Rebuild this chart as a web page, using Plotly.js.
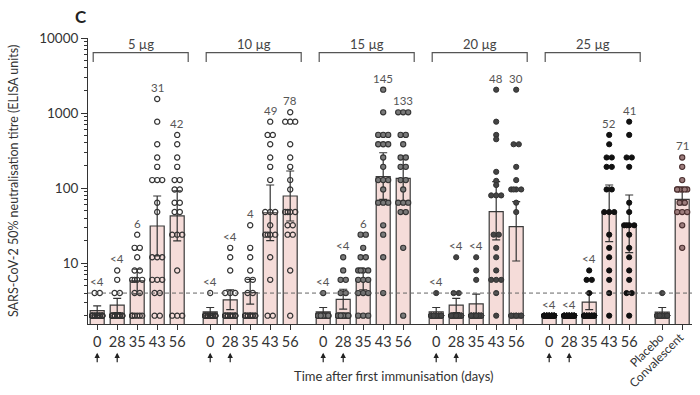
<!DOCTYPE html>
<html><head><meta charset="utf-8">
<script src="https://cdn.plot.ly/plotly-3.0.1.min.js"></script>
<style>html,body{margin:0;padding:0;background:#fff}#chart{width:700px;height:395px}</style>
</head><body><div id="chart"></div>
<script>
// ---------------- DATA ----------------
const groups = ['5 µg', '10 µg', '15 µg', '20 µg', '25 µg'];
const days = ['0', '28', '35', '43', '56'];
const controls = ['Placebo', 'Convalescent'];

// geometric mean titres (bar heights), 95% CI bounds and printed labels
const gmt_5  = [2.34, 2.76, 5.8, 31.3, 42.6];
const lo_5   = [2.0, 2.2, 3.9, 12.5, 19.8];
const hi_5   = [2.7, 3.4, 8.3, 78.5, 92];
const lab_5  = ['<4', '<4', '6', '31', '42'];

const gmt_10 = [2.25, 3.25, 4.06, 47, 78.5];
const lo_10  = [2.0, 2.4, 2.85, 20, 36.5];
const hi_10  = [2.57, 4.4, 6.1, 110, 169];
const lab_10 = ['<4', '<4', '4', '49', '78'];

const gmt_15 = [2.25, 3.3, 6.1, 142, 135];
const lo_15  = [2.0, 2.44, 4.4, 71, 64];
const hi_15  = [2.57, 4.5, 8.3, 296, 257];
const lab_15 = ['<4', '<4', '6', '145', '133'];

const gmt_20 = [2.25, 2.76, 2.88, 48.5, 30.7];
const lo_20  = [2.0, 2.2, 2.15, 20.4, 10.7];
const hi_20  = [2.57, 3.4, 3.87, 122, 66];
const lab_20 = ['<4', '<4', '<4', '48', '30'];

const gmt_25 = [2.1, 2.1, 3.03, 46, 33.3];
const lo_25  = [2.1, 2.1, 2.4, 19.4, 13.8];
const hi_25  = [2.1, 2.1, 4.0, 110, 81];
const lab_25 = ['<4', '<4', '<4', '52', '41'];

const gmt_ctrl = [2.23, 71];
const lo_ctrl  = [2.0, 59.6];
const hi_ctrl  = [2.57, 94.5];
const lab_ctrl = ['', '71'];

// individual participant titres
const dots_5 = [
  [4,4,2,2,2,2,2,2,2,2,2,2,2,2,2,2,2,2,2,2],
  [8,6,4,4,2,2,2,2,2,2,2,2,2,2,2,2,2,2,2,2],
  [24,16,16,12,8,8,6,6,6,6,4,4,2,2,2,2,2,2],
  [1536,768,384,256,192,128,128,128,64,48,12,12,12,6,6,6,4,4,2,2],
  [512,384,256,192,128,128,96,96,64,64,48,48,24,24,24,8,2,2,2]
];
const dots_10 = [
  [4,2,2,2,2,2,2,2,2,2,2,2,2,2,2,2,2,2,2,2],
  [16,12,8,4,4,4,2,2,2,2,2,2,2,2,2,2,2,2,2,2],
  [32,16,12,8,6,6,4,4,2,2,2,2,2,2,2,2,2,2,2,2],
  [768,512,512,384,256,192,128,48,48,48,32,24,24,24,24,12,6,2,2],
  [1024,768,768,768,384,256,192,128,96,48,48,48,48,32,32,24,24,8,2]
];
const dots_15 = [
  [4,2,2,2,2,2,2,2,2,2,2,2,2,2,2,2,2,2,2,2],
  [12,8,6,6,4,4,2,2,2,2,2,2,2,2,2,2,2,2,2,2],
  [24,24,16,12,12,8,8,8,8,6,6,6,4,4,4,2,2,2],
  [2048,1024,512,512,512,384,384,384,256,192,128,128,128,96,64,64,64,32,24,12,4],
  [1024,1024,1024,512,512,384,256,256,192,192,128,128,96,64,64,64,48,48,16,2]
];
const dots_20 = [
  [4,2,2,2,2,2,2,2,2,2,2,2,2,2,2,2,2,2,2,2],
  [12,4,4,2,2,2,2,2,2,2,2,2,2,2,2,2,2,2,2,2],
  [12,8,6,2,2,2,2,2,2,2,2,2,2,2,2,2,2,2,2,2],
  [2048,768,512,448,165,125,110,80,80,80,24,24,16,12,8,6,6,6,4,2],
  [2048,384,384,192,128,96,96,96,96,64,48,2,2,2,2,2,2,2,2]
];
const dots_25 = [
  [2,2,2,2,2,2,2,2,2,2,2,2,2,2,2,2,2,2,2,2],
  [2,2,2,2,2,2,2,2,2,2,2,2,2,2,2,2,2,2,2,2],
  [8,6,6,4,2,2,2,2,2,2,2,2,2,2,2,2,2,2,2,2],
  [512,384,256,256,192,192,96,96,48,48,48,24,16,12,8,6,4,2],
  [768,512,256,256,192,64,48,32,32,32,32,24,16,12,8,6,4,4,2]
];
const dots_ctrl = [
  [4,2,2,2,2,2,2,2,2,2,2,2,2,2,2,2,2,2,2,2],
  [256,192,128,96,96,96,96,96,96,64,64,48,48,48,32,16]
];

// ---------------- BUILD ----------------
const gmtAll = [gmt_5, gmt_10, gmt_15, gmt_20, gmt_25];
const loAll = [lo_5, lo_10, lo_15, lo_20, lo_25];
const hiAll = [hi_5, hi_10, hi_15, hi_20, hi_25];
const labAll = [lab_5, lab_10, lab_15, lab_20, lab_25];
const dotsAll = [dots_5, dots_10, dots_15, dots_20, dots_25];

const GSTEP = 5.65;
const dotStyles = [
  {symbol: 'circle-open', color: '#333', line: {width: 1.2, color: '#333'}},
  {symbol: 'circle-open', color: '#333', line: {width: 1.2, color: '#333'}},
  {symbol: 'circle', color: '#7a7a7a', line: {width: 1.1, color: '#333'}},
  {symbol: 'circle', color: '#444', line: {width: 1, color: '#333'}},
  {symbol: 'circle', color: '#111', line: {width: 1, color: '#111'}}
];
const ctrlStyles = [
  {symbol: 'circle', color: '#444', line: {width: 1, color: '#333'}},
  {symbol: 'circle', color: '#9c7c7c', line: {width: 1.1, color: '#4a2f2f'}}
];

function swarm(vals, xc) {
  const tot = {}, seen = {};
  vals.forEach(v => tot[v] = (tot[v] || 0) + 1);
  const pat = [-0.25, 0, 0.25, -0.125, 0.125];
  return vals.map(v => {
    const k = seen[v] || 0; seen[v] = k + 1;
    const n = tot[v];
    let off = 0;
    if (n === 2) off = k === 0 ? -0.13 : 0.13;
    else if (n > 2) off = pat[k % 5];
    return xc + off;
  });
}

const bx = [], by = [], eplus = [], eminus = [], tickv = [], tickt = [];
const traces = [];
const annotations = [];
const shapes = [];
const yr = [0.19, 4.0];
const pxToPaper = py => (324.3 - py) / 286.6;

function addBar(x, g, lo, hi, lab, dots, style) {
  bx.push(x); by.push(g); eplus.push(hi - g); eminus.push(g - lo);
  tickv.push(x);
  traces.push({
    type: 'scatter', mode: 'markers', x: swarm(dots, x), y: dots,
    marker: Object.assign({size: 5.2}, style), hoverinfo: 'skip', cliponaxis: false
  });
  if (lab) {
    annotations.push({
      x: x, y: Math.log10(Math.max.apply(null, dots)), xref: 'x', yref: 'y',
      text: lab, showarrow: false, yanchor: 'bottom', yshift: 3,
      font: {size: 11.5, color: '#555'}
    });
  }
}

groups.forEach((g, gi) => {
  days.forEach((d, di) => {
    const x = gi * GSTEP + di;
    addBar(x, gmtAll[gi][di], loAll[gi][di], hiAll[gi][di], labAll[gi][di], dotsAll[gi][di], dotStyles[gi]);
    tickt.push(d);
    if (di < 2) {
      annotations.push({
        x: x, y: pxToPaper(353), xref: 'x', yref: 'paper', text: '', showarrow: true,
        ax: 0, ay: 11, arrowhead: 2, arrowsize: 0.9, arrowwidth: 1.2, arrowcolor: '#222'
      });
    }
  });
  const x0 = gi * GSTEP - 0.2, x1 = gi * GSTEP + 4 + 0.55;
  const yt = pxToPaper(52.3), yb = pxToPaper(61.7);
  shapes.push({
    type: 'path', xref: 'x', yref: 'paper',
    path: `M ${x0},${yb} L ${x0},${yt} L ${x1},${yt} L ${x1},${yb}`,
    line: {color: '#555', width: 1.2}
  });
  annotations.push({
    x: (x0 + x1) / 2, y: pxToPaper(44), xref: 'x', yref: 'paper', text: g,
    showarrow: false, font: {size: 13, color: '#444'}, yanchor: 'middle'
  });
});

controls.forEach((c, ci) => {
  const x = 5 * GSTEP + ci;
  addBar(x, gmt_ctrl[ci], lo_ctrl[ci], hi_ctrl[ci], lab_ctrl[ci], dots_ctrl[ci], ctrlStyles[ci]);
  tickt.push('');
  annotations.push({
    x: x + 0.4, y: pxToPaper(327), xref: 'x', yref: 'paper', text: c, showarrow: false,
    textangle: -45, xanchor: 'right', yanchor: 'top', font: {size: 12, color: '#333'}
  });
});

const barTrace = {
  type: 'bar', x: bx, y: by, width: 0.7,
  marker: {color: '#f5dcd9', line: {color: '#3a3a3a', width: 1.2}},
  error_y: {type: 'data', symmetric: false, array: eplus, arrayminus: eminus,
            color: '#333', thickness: 1.2, width: 4},
  hoverinfo: 'skip'
};

// dashed threshold line at titre 4
shapes.push({
  type: 'line', xref: 'paper', yref: 'paper', x0: 0, x1: 1,
  y0: (Math.log10(4) - yr[0]) / (yr[1] - yr[0]), y1: (Math.log10(4) - yr[0]) / (yr[1] - yr[0]),
  line: {color: '#666', width: 1, dash: '4px,3px'}
});

annotations.push({
  x: 0, xref: 'paper', xshift: -75, y: 0.5, yref: 'paper', textangle: -90,
  text: 'SARS-CoV-2 50% neutralisation titre (ELISA units)', showarrow: false,
  xanchor: 'center', yanchor: 'middle', font: {size: 12.5, color: '#333'}
});
annotations.push({
  x: (393 - 88) / 604, xref: 'paper', y: pxToPaper(376), yref: 'paper',
  text: 'Time after first immunisation (days)', showarrow: false,
  yanchor: 'middle', font: {size: 13, color: '#333'}
});
annotations.push({
  x: (73 - 88) / 604, xref: 'paper', y: pxToPaper(16), yref: 'paper',
  text: '<b>C</b>', showarrow: false, yanchor: 'middle', font: {size: 17, color: '#222'}
});

const minorVals = [];
[1, 10, 100, 1000].forEach(dec => { for (let k = 2; k <= 9; k++) minorVals.push(k * dec); });

const layout = {
  width: 700, height: 395,
  margin: {l: 88, r: 8, t: 38, b: 71},
  paper_bgcolor: '#fff', plot_bgcolor: '#fff',
  font: {family: 'Lato, "Open Sans", sans-serif', color: '#333', size: 13},
  showlegend: false, hovermode: false,
  xaxis: {
    range: [-0.46, 29.74], tickmode: 'array', tickvals: tickv, ticktext: tickt,
    ticks: 'outside', ticklen: 5, tickcolor: '#333', tickwidth: 1,
    showline: true, linecolor: '#333', linewidth: 1, showgrid: false, zeroline: false,
    tickfont: {size: 14.5, color: '#333'}
  },
  yaxis: {
    type: 'log', range: yr, tickmode: 'array',
    tickvals: [10, 100, 1000, 10000], ticktext: ['10', '100', '1000', '10000'],
    ticks: 'outside', ticklen: 6, tickcolor: '#333', tickwidth: 1,
    showline: true, linecolor: '#333', linewidth: 1, showgrid: false, zeroline: false,
    tickfont: {size: 13.5, color: '#333'},
    minor: {tickmode: 'array', tickvals: minorVals, ticks: 'outside', ticklen: 3, tickcolor: '#333', showgrid: false}
  },
  shapes: shapes,
  annotations: annotations
};

Plotly.newPlot('chart', [barTrace].concat(traces), layout, {staticPlot: true, displayModeBar: false});
</script>
</body></html>
